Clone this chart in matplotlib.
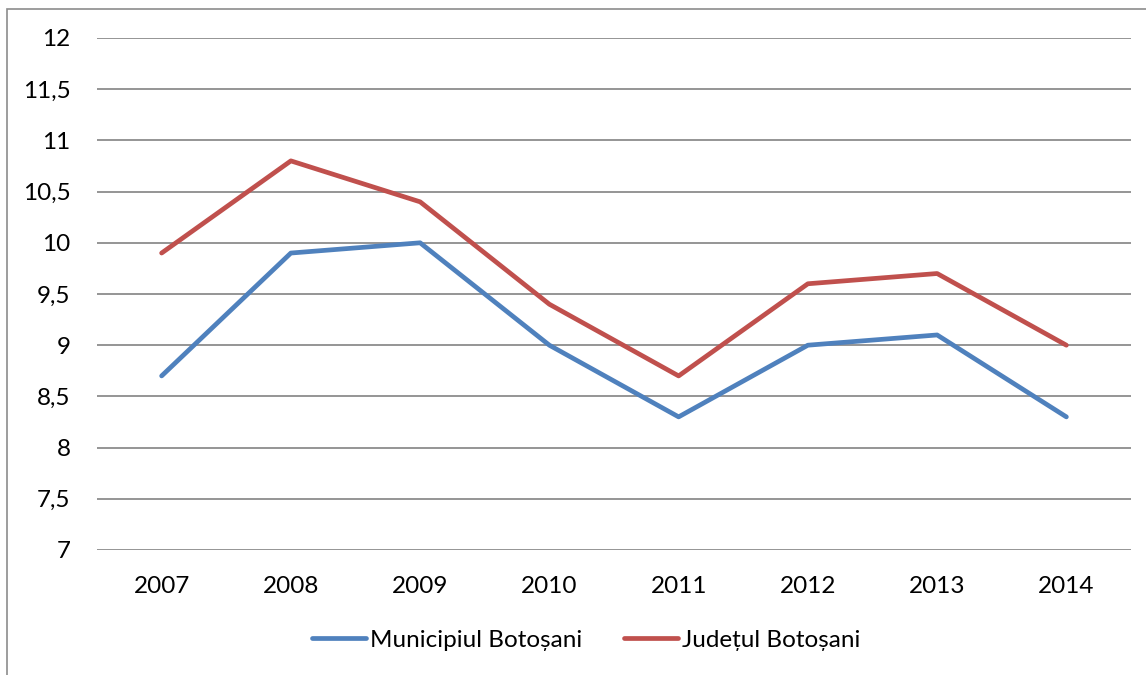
import matplotlib
matplotlib.use("Agg")
import matplotlib.pyplot as plt
from matplotlib.patches import Rectangle
from matplotlib.ticker import FuncFormatter

years = ["2007", "2008", "2009", "2010", "2011", "2012", "2013", "2014"]
municipiul = [8.7, 9.9, 10.0, 9.0, 8.3, 9.0, 9.1, 8.3]
judetul = [9.9, 10.8, 10.4, 9.4, 8.7, 9.6, 9.7, 9.0]
yticks = [7, 7.5, 8, 8.5, 9, 9.5, 10, 10.5, 11, 11.5, 12]

plt.rcParams['font.family'] = ['Lato', 'DejaVu Sans']

W, H = 1146, 675
fig = plt.figure(figsize=(W / 100, H / 100), dpi=100)
ax = fig.add_axes([97 / W, 1 - 550 / H, (1131 - 97) / W, (550 - 38) / H])

# outer border (chart area frame, partially cut off)
fig.patches.append(Rectangle((7 / W, -0.1), 1.2, 1 - 9 / H + 0.1,
                             transform=fig.transFigure, fill=False,
                             edgecolor='#8c8c8c', linewidth=1.2))

x = list(range(len(years)))
l1, = ax.plot(x, municipiul, color='#4F81BD', linewidth=3.4,
              solid_joinstyle='round', solid_capstyle='round',
              label='Municipiul Botoșani', zorder=3)
l2, = ax.plot(x, judetul, color='#C0504D', linewidth=3.4,
              solid_joinstyle='round', solid_capstyle='round',
              label='Județul Botoșani', zorder=3)

ax.set_xlim(-0.5, len(years) - 0.5)
ax.set_ylim(7, 12)
ax.set_yticks(yticks)
ax.yaxis.set_major_formatter(FuncFormatter(
    lambda v, p: (f"{v:g}").replace('.', ',')))
ax.set_xticks(x)
ax.set_xticklabels(years)
ax.grid(axis='y', color='#8c8c8c', linewidth=1.3)
ax.set_axisbelow(True)
for s in ax.spines.values():
    s.set_visible(False)
ax.tick_params(axis='both', length=0, labelsize=17.5, colors='black')
ax.tick_params(axis='y', pad=19)
ax.tick_params(axis='x', pad=19)

fig.legend(handles=[l1, l2], loc='center', bbox_to_anchor=(586 / W, 1 - 640 / H),
           ncol=2, frameon=False, fontsize=17.5, handlelength=2.25,
           handletextpad=0.15, columnspacing=1.7)

fig.savefig('out.png', dpi=100)
